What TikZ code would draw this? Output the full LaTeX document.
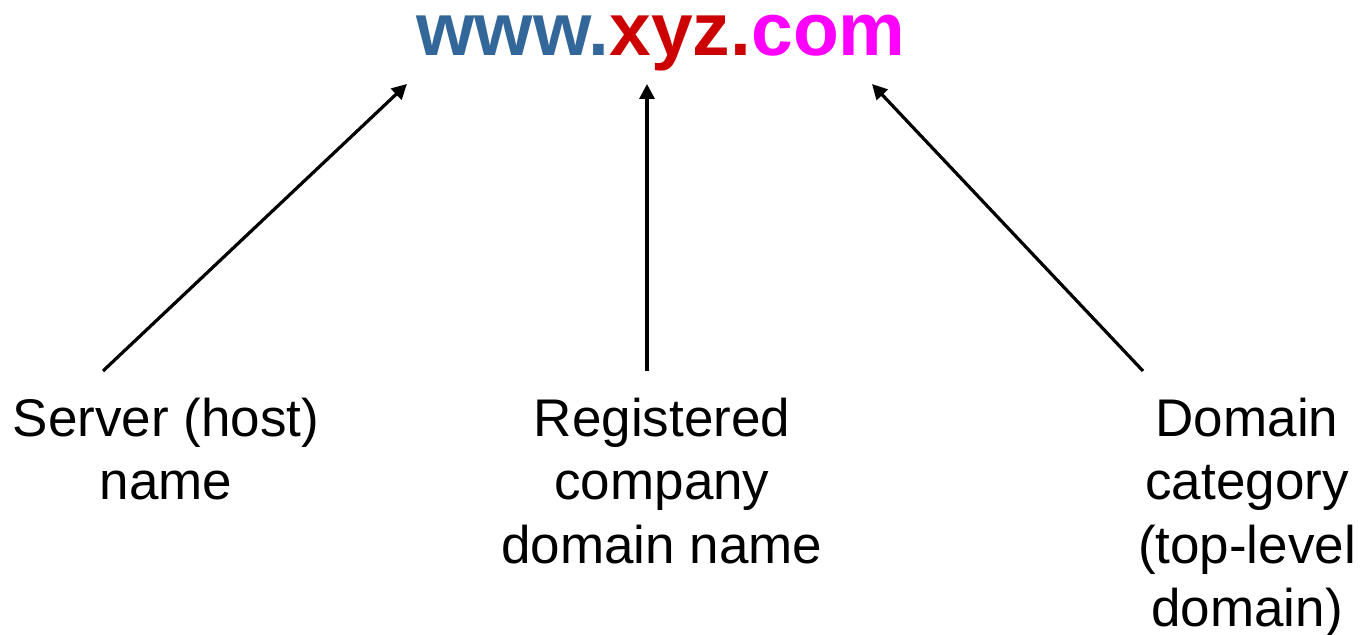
\documentclass[tikz,border=0pt]{standalone}
\usepackage{fontspec}
\setmainfont{Liberation Sans}
\usetikzlibrary{arrows.meta}

\definecolor{urlblue}{RGB}{51,102,153}
\definecolor{urlred}{RGB}{204,0,0}
\definecolor{urlpink}{RGB}{255,0,255}

\begin{document}
\begin{tikzpicture}[
    x=0.5pt, y=-0.5pt,
    line width=1.6pt,
    part label/.style={font=\fontsize{26.5}{31.8}\selectfont, align=center, anchor=north, inner sep=0pt},
    pointer/.style={-{Triangle[length=7.5pt,width=7.5pt]}}
  ]

    \useasboundingbox (0,0) rectangle (1361,635);

    % 1. Address
    \node[anchor=base, inner sep=0pt, font=\fontsize{37.5}{40}\selectfont\bfseries] (U) at (661,56)
        {\textcolor{urlblue}{www.}\textcolor{urlred}{xyz.}\textcolor{urlpink}{com}};

    % 2. Coordinates
    \coordinate (S0) at (103,371);
    \coordinate (S1) at (407,84);
    \coordinate (R0) at (647,371);
    \coordinate (R1) at (647,84);
    \coordinate (D0) at (1143,371);
    \coordinate (D1) at (872,84);

    % 3. Arrows
    \draw[pointer] (S0) -- (S1);
    \draw[pointer] (R0) -- (R1);
    \draw[pointer] (D0) -- (D1);

    % 4. Labels
    \node[part label] (S) at (166,396) {Server (host)\\name};
    \node[part label] (R) at (662,396) {Registered\\company\\domain name};
    \node[part label] (D) at (1247,396) {Domain\\category\\(top-level\\domain)};

  \end{tikzpicture}
\end{document}
